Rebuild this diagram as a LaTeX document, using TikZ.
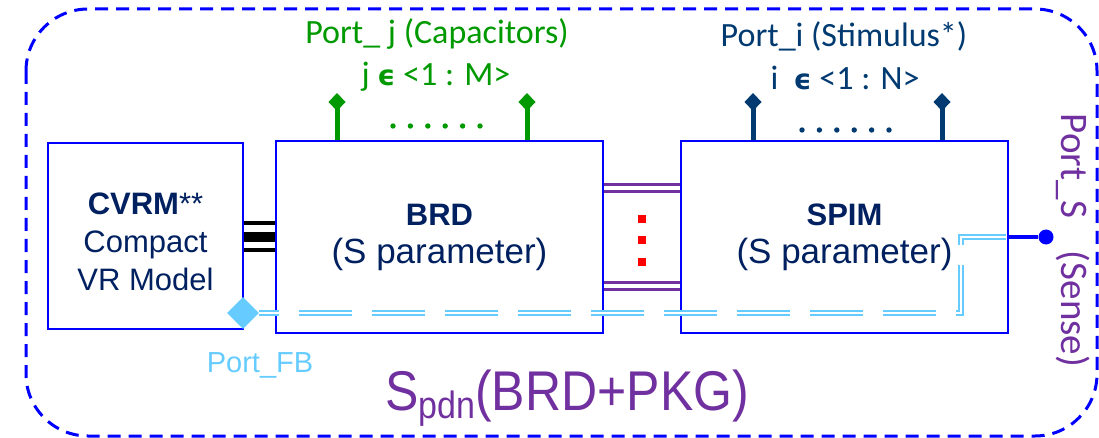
\documentclass[tikz,border=0pt]{standalone}
\usepackage{fontspec}
\setmainfont{Liberation Sans}
\newfontfamily\portfont{Carlito}
\newfontfamily\symfont{DejaVu Sans}
\usetikzlibrary{
	arrows.meta,
	shapes.geometric,
	positioning
}
\definecolor{BoxBlue}{RGB}{0,0,255}
\definecolor{NavyText}{RGB}{0,32,96}
\definecolor{PortNavy}{RGB}{0,58,112}
\definecolor{PortGreen}{RGB}{0,153,0}
\definecolor{PdnPurple}{RGB}{112,48,160}
\definecolor{FbBlue}{RGB}{102,204,255}
\newcommand{\setfs}[2]{\fontsize{#1}{#2}\selectfont}
\newcommand{\epsym}{{\symfont\bfseries\setfs{28}{34}ϵ}}

\begin{document}
\begin{tikzpicture}[x=1pt, y=-1pt,
	box/.style={draw=BoxBlue, line width=2pt, text=NavyText, align=center, inner sep=0pt},
	portlabel/.style={font=\portfont\setfs{34}{40}, inner sep=0pt, anchor=base},
	pinline/.style={line width=5pt, -{Diamond[length=18pt,width=17pt]}},
	busline/.style={line width=#1, black},
	pairline/.style={line width=3pt, PdnPurple},
	fbline/.style={draw=FbBlue, line width=1.9pt, double=white, double distance=1.7pt,
		dash pattern=on 53pt off 20pt, dash phase=33pt}
	]
	\useasboundingbox (0,0) rectangle (1099,438);
	
	% 外框 S_pdn
	\draw[BoxBlue, line width=3pt, dash pattern=on 13pt off 8pt, rounded corners=62pt]
		(26,9) rectangle (1097,436);
	
	% 三个模块
	\node[box, minimum width=195pt, minimum height=186pt, font=\setfs{31}{38}]
		(cvrm) at (145.5,236) {\rule{0pt}{34pt}\textbf{CVRM}**\\Compact\\VR Model};
	\node[box, minimum width=327pt, minimum height=192pt, font=\setfs{35}{38}]
		(brd) at (439.5,237) {{\setfs{31}{38}\textbf{BRD}}\\(S parameter)};
	\node[box, minimum width=327pt, minimum height=192pt, font=\setfs{35}{38}]
		(spim) at (844.5,237) {{\setfs{31}{38}\textbf{SPIM}}\\(S parameter)};
	
	% CVRM -- BRD 总线
	\draw[busline=4pt] ([yshift=13pt]cvrm.east) -- ([yshift=13pt]cvrm.east -| brd.west);
	\draw[busline=10pt] ([yshift=-1pt]cvrm.east) -- ([yshift=-1pt]cvrm.east -| brd.west);
	\draw[busline=4pt] ([yshift=-14pt]cvrm.east) -- ([yshift=-14pt]cvrm.east -| brd.west);
	
	% BRD -- SPIM 端口对
	\foreach \dy in {52,45,-45,-52}
		\draw[pairline] ([yshift=\dy pt]brd.east) -- ([yshift=\dy pt]brd.east -| spim.west);
	\foreach \y in {219,240,262}
		\fill[red] (638,\y-4) rectangle ++(8,8);
	
	% Port_j (电容)
	\draw[pinline, PortGreen] ([xshift=-102.5pt]brd.north) -- ++(0,-47);
	\draw[pinline, PortGreen] ([xshift=87.5pt]brd.north) -- ++(0,-47);
	\foreach \k in {0,...,5}
		\fill[PortGreen] (393+\k*17.4,126) circle (2.7);
	\node[portlabel, text=PortGreen] (portj) at (437,44) {Port\_ j (Capacitors)};
	\node[portlabel, text=PortGreen] (portjrange) at (436,86) {j \epsym\ <1 : M>};
	
	% Port_i (激励)
	\draw[pinline, PortNavy] ([xshift=-91.5pt]spim.north) -- ++(0,-47);
	\draw[pinline, PortNavy] ([xshift=97.5pt]spim.north) -- ++(0,-47);
	\foreach \k in {0,...,5}
		\fill[PortNavy] (802+\k*17.4,130) circle (2.7);
	\node[portlabel, text=PortNavy] (porti) at (844,47) {Port\_i (Stimulus*)};
	\node[portlabel, text=PortNavy] (portirange) at (845,90) {i\ \ \epsym\ <1 : N>};
	
	% Port_S (Sense)
	\node[circle, fill=BoxBlue, inner sep=0pt, minimum size=15pt] (sense) at (1046,237) {};
	\draw[line width=4pt, BoxBlue] (spim.east) -- (sense);
	\node[portlabel, text=PdnPurple, font=\portfont\setfs{39}{44}, rotate=-90]
		(ports) at (1061,240.5) {Port\_S\hspace{33pt}(Sense)};
	
	% Port_FB 反馈线
	\node[diamond, fill=FbBlue, inner sep=0pt, minimum width=32pt, minimum height=32pt]
		(fb) at (243,313) {};
	\coordinate (fbturn) at (961,313);
	\draw[fbline] (fb) -- (fbturn) |- (spim.east);
	\node[anchor=base, text=FbBlue, font=\setfs{29}{34}, inner sep=0pt] (fblabel) at (260,372) {Port\_FB};
	
	% 标题
	\node[anchor=base west, text=PdnPurple, inner sep=0pt] (pdn) at (385,410)
		{\scalebox{1}[1.12]{\setfs{50}{56}S{\setfs{34}{40}\raisebox{-8pt}{pdn}}(BRD+PKG)}};
\end{tikzpicture}
\end{document}
